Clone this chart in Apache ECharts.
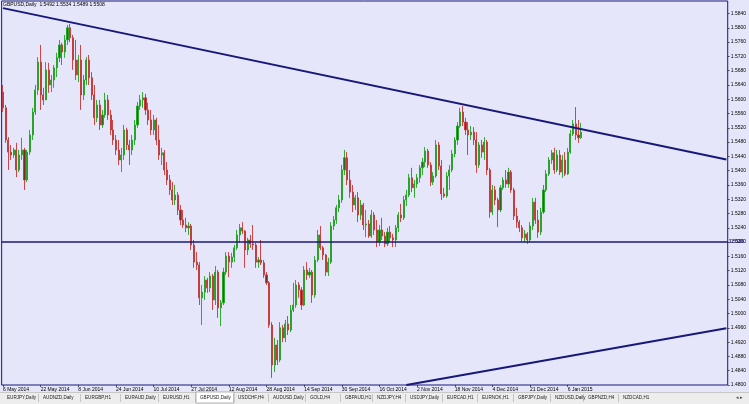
<!DOCTYPE html>
<html><head><meta charset="utf-8">
<script src="https://cdn.jsdelivr.net/npm/echarts@6/dist/echarts.min.js"></script>
<style>html,body{margin:0;padding:0;background:#E6E6FA;}#c{width:749px;height:404px;}</style>
</head><body><div id="c"></div>
<script>
const symbolName = 'GBPUSD,Daily';
const firstDate = [2014, 4, 6];
const totalSlots = 270;
const priceMin = 1.48, priceMax = 1.5875, priceStep = 0.004;

const opens = [
1.5620,1.5576,1.5486,1.5452,1.5444,1.5458,1.5402,1.5444,1.5458,1.5374,
1.5452,1.5500,1.5564,1.5626,1.5704,1.5612,1.5598,1.5682,1.5640,1.5654,
1.5688,1.5716,1.5752,1.5732,1.5766,1.5800,1.5772,1.5710,1.5668,1.5710,
1.5612,1.5654,1.5710,1.5660,1.5612,1.5548,1.5584,1.5528,1.5556,1.5598,
1.5556,1.5514,1.5486,1.5458,1.5430,1.5444,1.5514,1.5472,1.5458,1.5486,
1.5528,1.5581,1.5598,1.5604,1.5570,1.5542,1.5514,1.5542,1.5486,1.5444,
1.5450,1.5402,1.5374,1.5346,1.5318,1.5332,1.5290,1.5262,1.5248,1.5240,
1.5245,1.5192,1.5144,1.5136,1.5044,1.5060,1.5094,1.5072,1.5105,1.5038,
1.5116,1.5016,1.5030,1.5116,1.5161,1.5144,1.5158,1.5184,1.5220,1.5240,
1.5231,1.5178,1.5206,1.5195,1.5192,1.5144,1.5150,1.5142,1.5108,1.5086,
1.4968,1.4856,1.4912,1.4870,1.4960,1.4932,1.4971,1.4954,1.5010,1.5024,
1.5080,1.5066,1.5024,1.5122,1.5108,1.5116,1.5052,1.5150,1.5220,1.5184,
1.5164,1.5116,1.5144,1.5245,1.5262,1.5296,1.5318,1.5402,1.5436,1.5374,
1.5340,1.5304,1.5324,1.5276,1.5304,1.5248,1.5251,1.5217,1.5276,1.5234,
1.5200,1.5234,1.5217,1.5195,1.5228,1.5212,1.5206,1.5240,1.5276,1.5268,
1.5318,1.5332,1.5380,1.5352,1.5363,1.5380,1.5408,1.5424,1.5455,1.5416,
1.5368,1.5385,1.5472,1.5413,1.5335,1.5329,1.5385,1.5402,1.5447,1.5486,
1.5525,1.5564,1.5536,1.5514,1.5500,1.5508,1.5486,1.5416,1.5472,1.5452,
1.5480,1.5402,1.5284,1.5346,1.5318,1.5290,1.5352,1.5374,1.5363,1.5396,
1.5346,1.5273,1.5256,1.5240,1.5212,1.5223,1.5206,1.5245,1.5312,1.5262,
1.5228,1.5284,1.5346,1.5391,1.5430,1.5450,1.5402,1.5444,1.5396,1.5430,
1.5391,1.5452,1.5503,1.5531,1.5500,1.5492];
const highs = [
1.5640,1.5584,1.5494,1.5472,1.5464,1.5478,1.5458,1.5492,1.5464,1.5458,
1.5514,1.5576,1.5640,1.5718,1.5752,1.5632,1.5704,1.5702,1.5668,1.5696,
1.5730,1.5766,1.5758,1.5780,1.5808,1.5811,1.5780,1.5766,1.5724,1.5752,
1.5668,1.5718,1.5724,1.5676,1.5640,1.5598,1.5598,1.5570,1.5618,1.5612,
1.5570,1.5542,1.5500,1.5486,1.5464,1.5528,1.5520,1.5486,1.5500,1.5542,
1.5592,1.5612,1.5620,1.5615,1.5590,1.5570,1.5556,1.5548,1.5528,1.5464,
1.5458,1.5424,1.5388,1.5368,1.5360,1.5340,1.5304,1.5290,1.5268,1.5256,
1.5251,1.5206,1.5172,1.5144,1.5080,1.5105,1.5100,1.5116,1.5111,1.5133,
1.5122,1.5038,1.5128,1.5172,1.5172,1.5170,1.5192,1.5234,1.5251,1.5256,
1.5234,1.5212,1.5220,1.5248,1.5198,1.5158,1.5206,1.5150,1.5116,1.5091,
1.4976,1.4932,1.4926,1.4976,1.4968,1.4982,1.4993,1.5024,1.5086,1.5094,
1.5088,1.5074,1.5133,1.5144,1.5128,1.5122,1.5161,1.5234,1.5245,1.5189,
1.5167,1.5156,1.5256,1.5273,1.5304,1.5332,1.5416,1.5458,1.5452,1.5402,
1.5360,1.5332,1.5340,1.5318,1.5310,1.5290,1.5262,1.5290,1.5284,1.5262,
1.5248,1.5268,1.5228,1.5240,1.5245,1.5223,1.5248,1.5284,1.5307,1.5329,
1.5346,1.5391,1.5408,1.5374,1.5391,1.5416,1.5436,1.5466,1.5461,1.5424,
1.5396,1.5486,1.5480,1.5430,1.5352,1.5396,1.5416,1.5458,1.5494,1.5536,
1.5576,1.5581,1.5548,1.5536,1.5525,1.5522,1.5508,1.5480,1.5486,1.5494,
1.5486,1.5408,1.5360,1.5357,1.5324,1.5360,1.5382,1.5402,1.5408,1.5402,
1.5352,1.5296,1.5262,1.5248,1.5234,1.5228,1.5256,1.5324,1.5324,1.5290,
1.5296,1.5360,1.5402,1.5438,1.5458,1.5464,1.5458,1.5458,1.5444,1.5452,
1.5464,1.5514,1.5542,1.5578,1.5542,1.5534];
const lows = [
1.5564,1.5478,1.5402,1.5430,1.5436,1.5382,1.5396,1.5430,1.5346,1.5368,
1.5444,1.5486,1.5556,1.5612,1.5570,1.5584,1.5598,1.5618,1.5620,1.5632,
1.5662,1.5704,1.5696,1.5716,1.5752,1.5760,1.5682,1.5654,1.5648,1.5570,
1.5598,1.5640,1.5640,1.5598,1.5528,1.5536,1.5514,1.5520,1.5548,1.5542,
1.5500,1.5472,1.5444,1.5416,1.5396,1.5430,1.5458,1.5416,1.5444,1.5472,
1.5520,1.5570,1.5576,1.5556,1.5528,1.5500,1.5500,1.5472,1.5430,1.5416,
1.5388,1.5360,1.5332,1.5304,1.5304,1.5276,1.5248,1.5240,1.5228,1.5220,
1.5178,1.5128,1.5122,1.5024,1.4968,1.5038,1.5058,1.5060,1.5010,1.5024,
1.4988,1.4965,1.5024,1.5108,1.5102,1.5128,1.5144,1.5178,1.5198,1.5223,
1.5128,1.5164,1.5184,1.5178,1.5128,1.5128,1.5136,1.5100,1.5080,1.4960,
1.4820,1.4836,1.4856,1.4864,1.4920,1.4920,1.4940,1.4948,1.5004,1.5016,
1.5044,1.5010,1.5021,1.5094,1.5100,1.5030,1.5044,1.5144,1.5178,1.5150,
1.5105,1.5105,1.5139,1.5234,1.5251,1.5284,1.5310,1.5388,1.5360,1.5324,
1.5284,1.5290,1.5256,1.5262,1.5234,1.5214,1.5212,1.5212,1.5220,1.5186,
1.5189,1.5206,1.5186,1.5189,1.5200,1.5186,1.5186,1.5228,1.5256,1.5262,
1.5301,1.5326,1.5340,1.5324,1.5352,1.5366,1.5388,1.5410,1.5408,1.5357,
1.5360,1.5380,1.5402,1.5318,1.5324,1.5324,1.5346,1.5396,1.5438,1.5472,
1.5520,1.5525,1.5500,1.5444,1.5486,1.5472,1.5394,1.5408,1.5436,1.5430,
1.5388,1.5268,1.5276,1.5304,1.5242,1.5284,1.5346,1.5352,1.5352,1.5338,
1.5262,1.5240,1.5228,1.5200,1.5198,1.5195,1.5200,1.5234,1.5251,1.5212,
1.5220,1.5279,1.5340,1.5385,1.5419,1.5391,1.5396,1.5388,1.5380,1.5385,
1.5388,1.5447,1.5497,1.5486,1.5478,1.5489];
const closes = [
1.5576,1.5486,1.5452,1.5444,1.5458,1.5402,1.5444,1.5458,1.5374,1.5452,
1.5500,1.5564,1.5626,1.5704,1.5612,1.5598,1.5682,1.5640,1.5654,1.5688,
1.5716,1.5752,1.5732,1.5766,1.5800,1.5772,1.5710,1.5668,1.5710,1.5612,
1.5654,1.5710,1.5660,1.5612,1.5548,1.5584,1.5528,1.5556,1.5598,1.5556,
1.5514,1.5486,1.5458,1.5430,1.5444,1.5514,1.5472,1.5458,1.5486,1.5528,
1.5581,1.5598,1.5604,1.5570,1.5542,1.5514,1.5542,1.5486,1.5444,1.5450,
1.5402,1.5374,1.5346,1.5318,1.5332,1.5290,1.5262,1.5248,1.5240,1.5245,
1.5192,1.5144,1.5136,1.5044,1.5060,1.5094,1.5072,1.5105,1.5038,1.5116,
1.5016,1.5030,1.5116,1.5161,1.5144,1.5158,1.5184,1.5220,1.5240,1.5231,
1.5178,1.5206,1.5195,1.5192,1.5144,1.5150,1.5142,1.5108,1.5086,1.4968,
1.4856,1.4912,1.4870,1.4960,1.4932,1.4971,1.4954,1.5010,1.5024,1.5080,
1.5066,1.5024,1.5122,1.5108,1.5116,1.5052,1.5150,1.5220,1.5184,1.5164,
1.5116,1.5144,1.5245,1.5262,1.5296,1.5318,1.5402,1.5436,1.5374,1.5340,
1.5304,1.5324,1.5276,1.5304,1.5248,1.5251,1.5217,1.5276,1.5234,1.5200,
1.5234,1.5217,1.5195,1.5228,1.5212,1.5206,1.5240,1.5276,1.5268,1.5318,
1.5332,1.5380,1.5352,1.5363,1.5380,1.5408,1.5424,1.5455,1.5416,1.5368,
1.5385,1.5472,1.5413,1.5335,1.5329,1.5385,1.5402,1.5447,1.5486,1.5525,
1.5564,1.5536,1.5514,1.5500,1.5508,1.5486,1.5416,1.5472,1.5452,1.5480,
1.5402,1.5284,1.5346,1.5318,1.5290,1.5352,1.5374,1.5363,1.5396,1.5346,
1.5273,1.5256,1.5240,1.5212,1.5223,1.5206,1.5245,1.5312,1.5262,1.5228,
1.5284,1.5346,1.5391,1.5430,1.5450,1.5402,1.5444,1.5396,1.5430,1.5391,
1.5452,1.5503,1.5531,1.5500,1.5492,1.5508];

const supportLevel = 1.5186;
const upperTrendPrices = [1.5855, 1.5431];
const lowerTrendPrices = [1.4800, 1.4959];
const lowerTrendStartSlot = 150;

const tabNames = ['EURJPY,Daily','AUDNZD,Daily','EURGBP,H1','EURAUD,Daily','EURUSD,H1','GBPUSD,Daily','USDCHF,H4','AUDUSD,Daily','GOLD,H4','GBPAUD,H1','NZDJPY,H4','USDJPY,Daily','EURCAD,H1','EURNOK,H1','GBPJPY,Daily','NZDUSD,Daily','GBPNZD,H4','NZDCAD,H1'];

// ---- build ----
const monthNames = ['Jan','Feb','Mar','Apr','May','Jun','Jul','Aug','Sep','Oct','Nov','Dec'];
const dates = [];
const d = new Date(Date.UTC(firstDate[0], firstDate[1], firstDate[2]));
while (dates.length < totalSlots) {
  if (d.getUTCDay() !== 6) dates.push(d.getUTCDate() + ' ' + monthNames[d.getUTCMonth()] + ' ' + d.getUTCFullYear());
  d.setUTCDate(d.getUTCDate() + 1);
}
const nBars = opens.length;
const candles = opens.map((o, i) => [o, closes[i], lows[i], highs[i]]);
const last = nBars - 1;
const titleText = symbolName + '  ' + opens[last].toFixed(4) + ' ' + highs[last].toFixed(4) + ' ' + lows[last].toFixed(4) + ' ' + closes[last].toFixed(4);

const navy = '#18187a';
const FONT = 'Liberation Sans, Arial, sans-serif';
const tabLeft = [7,43,85,125,163,200,238,273,310,345,377,410,447,482,518,555,588,623];
const labelEvery = 14;
const showDateAt = (i) => i % labelEvery === 0 && i <= last;

const graphics = [
  {type:'rect', shape:{x:0, y:392, width:749, height:12}, style:{fill:'#EDEDED'}, z:10},
  {type:'line', shape:{x1:0, y1:392.5, x2:749, y2:392.5}, style:{stroke:'#C8C8C8', lineWidth:1}, z:10},
  {type:'text', x:3, y:5, style:{text:titleText, fontSize:5, fontFamily:FONT, fill:'#000', verticalAlign:'middle'}, z:10}
];
tabNames.forEach((t, k) => {
  const x = tabLeft[k];
  if (t === symbolName) {
    graphics.push({type:'rect', shape:{x:x-4, y:392, width:38, height:11}, style:{fill:'#FFFFFF', stroke:'#888', lineWidth:0.6}, z:11});
  }
  if (k > 0) graphics.push({type:'line', shape:{x1:x-4.5, y1:394, x2:x-4.5, y2:402}, style:{stroke:'#A8A8A8', lineWidth:0.6}, z:11});
  graphics.push({type:'text', x:x, y:398, style:{text:t, fontSize:4.6, fontFamily:FONT, fill:'#222', verticalAlign:'middle'}, z:12});
});
graphics.push({type:'text', x:736, y:398, style:{text:'\u25C2 \u25B8', fontSize:5, fontFamily:FONT, fill:'#444', verticalAlign:'middle'}, z:12});

const chart = echarts.init(document.getElementById('c'), null, {renderer:'canvas'});
chart.setOption({
  animation: false,
  backgroundColor: '#E6E6FA',
  grid: {left:1, top:1, right:18, bottom:19, show:true, borderColor:navy, borderWidth:1, backgroundColor:'#E6E6FA'},
  xAxis: {
    type:'category', data:dates, boundaryGap:true,
    axisLine:{show:false},
    axisTick:{show:true, interval:showDateAt, length:2, alignWithLabel:true, lineStyle:{color:'#000', width:0.6}},
    axisLabel:{interval:showDateAt, fontSize:5, fontFamily:FONT, color:'#000', margin:2, align:'left'},
    splitLine:{show:false}
  },
  yAxis: {
    type:'value', position:'right', min:priceMin, max:priceMax, interval:priceStep,
    axisLine:{show:false},
    axisTick:{show:true, length:2, lineStyle:{color:'#000', width:0.6}},
    axisLabel:{fontSize:5, fontFamily:FONT, color:'#000', margin:3, showMaxLabel:false,
      formatter:v => v.toFixed(4)},
    splitLine:{show:false}
  },
  graphic: graphics,
  series: [{
    type:'candlestick', data:candles, barWidth:'60%', clip:false,
    itemStyle:{color:'#236b23', color0:'#7e2828', borderColor:'#1fa31f', borderColor0:'#c83434', borderWidth:0.9},
    markLine:{
      silent:true, animation:false, symbol:['none','none'],
      label:{show:false},
      data:[
        [{coord:[dates[0], upperTrendPrices[0]], lineStyle:{color:navy, width:2, type:'solid'}},
         {coord:[dates[totalSlots-1], upperTrendPrices[1]]}],
        [{coord:[dates[lowerTrendStartSlot], lowerTrendPrices[0]], lineStyle:{color:navy, width:2, type:'solid'}},
         {coord:[dates[totalSlots-1], lowerTrendPrices[1]]}],
        {yAxis:supportLevel, lineStyle:{color:navy, width:1.5, type:'solid'},
         label:{show:true, position:'end', distance:1, formatter:supportLevel.toFixed(4), color:navy, fontWeight:'bold', fontSize:5, fontFamily:FONT}},
        {yAxis:closes[last], lineStyle:{opacity:0, width:0},
         label:{show:true, position:'end', distance:0, formatter:closes[last].toFixed(4), color:'#fff', backgroundColor:navy, padding:[1,1,1,2], fontSize:5, fontFamily:FONT}}
      ]
    }
  }]
});
</script></body></html>
